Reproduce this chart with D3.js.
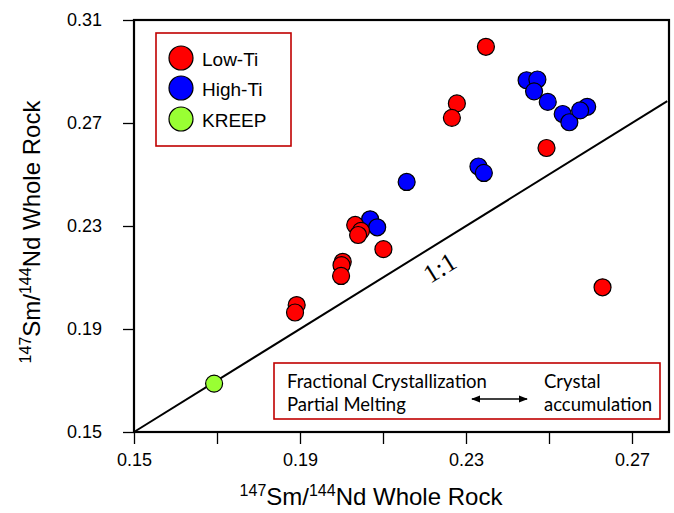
<!DOCTYPE html>
<html><head><meta charset="utf-8">
<script src="https://cdn.jsdelivr.net/npm/d3@7"></script>
<style>body{margin:0;background:#fff}</style>
</head><body>
<svg id="c" width="674" height="513"></svg>
<script>
// ---- data ----
const lowTi = [
  [0.2348,0.2996],[0.2278,0.2776],[0.2266,0.2720],[0.2494,0.2603],
  [0.2033,0.2304],[0.2047,0.2281],[0.2040,0.2265],[0.2101,0.2210],
  [0.2003,0.2161],[0.2000,0.2148],[0.1999,0.2106],[0.1892,0.1993],
  [0.1888,0.1964],[0.2629,0.2062]
];
const highTi = [
  [0.2446,0.2866],[0.2472,0.2869],[0.2464,0.2823],[0.2497,0.2782],
  [0.2533,0.2735],[0.2549,0.2703],[0.2592,0.2763],[0.2575,0.2749],
  [0.2069,0.2326],[0.2086,0.2295],[0.2157,0.2471],[0.2330,0.2531],
  [0.2343,0.2506]
];
const kreep = [[0.1693,0.1688]];
const xMajor = [0.15,0.19,0.23,0.27];
const xMinor = [0.17,0.21,0.25];
const yTicks = [0.15,0.19,0.23,0.27,0.31];
const oneToOne = [0.15,0.2785];
const legendNames = ["Low-Ti","High-Ti","KREEP"];
const colors = ["#ff0000","#0000ff","#99ff33"];

const svg = d3.select("#c");
const pL=134,pR=669,pT=20,pB=432;
const x = d3.scaleLinear().domain([0.15,0.27]).range([134,632]);
const y = d3.scaleLinear().domain([0.15,0.31]).range([pB,pT]);
const font = "'Liberation Sans', Arial, sans-serif";

// axes
const xAxis = svg.append("g").attr("transform",`translate(0,${pB})`)
  .call(d3.axisBottom(x).tickValues(xMajor.concat(xMinor)).tickSize(12).tickPadding(9)
    .tickFormat(d => xMajor.includes(d) ? d3.format(".2f")(d) : ""));
const yAxis = svg.append("g").attr("transform",`translate(${pL},0)`)
  .call(d3.axisLeft(y).tickValues(yTicks).tickSize(11).tickPadding(21).tickFormat(d3.format(".2f")));
[xAxis,yAxis].forEach(a=>{
  a.attr("font-family",null).attr("font-size",null);
  a.select(".domain").remove();
  a.selectAll(".tick line").attr("stroke","#000").attr("stroke-width",1.3);
  a.selectAll("text").style("font-family",font).style("font-size","18px").attr("fill","#000");
});

// frame
svg.append("rect").attr("x",pL).attr("y",pT).attr("width",pR-pL).attr("height",pB-pT)
  .attr("fill","none").attr("stroke","#000").attr("stroke-width",2.2);

// 1:1 line
svg.append("line").attr("x1",x(oneToOne[0])).attr("y1",y(oneToOne[0]))
  .attr("x2",x(oneToOne[1])).attr("y2",y(oneToOne[1]))
  .attr("stroke","#000").attr("stroke-width",2);
const ang = Math.atan2(y(0.16)-y(0.15), x(0.16)-x(0.15))*180/Math.PI;
svg.append("text").attr("transform",`translate(440,268) rotate(${ang})`)
  .attr("text-anchor","middle").attr("dominant-baseline","central")
  .style("font-family","'Liberation Serif', 'Times New Roman', serif").style("font-size","26px")
  .text("1:1");

// points
const groups = [highTi, lowTi, kreep];
const gcol = [colors[1], colors[0], colors[2]];
groups.forEach((g,i)=>{
  svg.append("g").selectAll("circle").data(g).join("circle")
    .attr("cx",d=>x(d[0])).attr("cy",d=>y(d[1])).attr("r",8.5)
    .attr("fill",gcol[i]).attr("stroke","#000").attr("stroke-width",1.2);
});

// legend
svg.append("rect").attr("x",156).attr("y",33).attr("width",135).attr("height",113)
  .attr("fill","#fff").attr("stroke","#c00000").attr("stroke-width",1.6);
legendNames.forEach((n,i)=>{
  const cy = [58,88,119][i];
  svg.append("circle").attr("cx",181).attr("cy",cy).attr("r",12)
    .attr("fill",colors[i]).attr("stroke","#000").attr("stroke-width",1.2);
  svg.append("text").attr("x",202).attr("y",cy+1).attr("dominant-baseline","central")
    .style("font-family",font).style("font-size","19px").text(n);
});

// annotation box
svg.append("rect").attr("x",274).attr("y",363).attr("width",386).attr("height",56)
  .attr("fill","#fff").attr("stroke","#c00000").attr("stroke-width",1.6);
const afont = "Lato, 'Open Sans', sans-serif";
[["Fractional Crystallization",287,388],["Partial Melting",287,411],["Crystal",544,388],["accumulation",544,411]]
  .forEach(t=>svg.append("text").attr("x",t[1]).attr("y",t[2]).style("font-family",afont)
    .style("font-size","18.5px").text(t[0]));
const defs = svg.append("defs");
["s","e"].forEach(k=>{
  defs.append("marker").attr("id","m"+k).attr("viewBox","0 0 10 10").attr("refX",9).attr("refY",5)
    .attr("markerWidth",7).attr("markerHeight",7).attr("orient",k==="e"?"auto":"auto-start-reverse")
    .append("path").attr("d","M0,1 L10,5 L0,9 z").attr("fill","#000");
});
svg.append("line").attr("x1",472).attr("y1",399).attr("x2",527).attr("y2",399)
  .attr("stroke","#000").attr("stroke-width",1.3)
  .attr("marker-start","url(#ms)").attr("marker-end","url(#me)");

// axis titles
function title(sel){
  sel.append("tspan").style("font-size","16px").attr("dy",-9).text("147");
  sel.append("tspan").attr("dy",9).text("Sm/");
  sel.append("tspan").style("font-size","16px").attr("dy",-9).text("144");
  sel.append("tspan").attr("dy",9).text("Nd Whole Rock");
}
svg.append("text").attr("x",371).attr("y",505).attr("text-anchor","middle")
  .style("font-family",font).style("font-size","24px").call(title);
svg.append("text").attr("transform","translate(40,232) rotate(-90)").attr("text-anchor","middle")
  .style("font-family",font).style("font-size","24px").call(title);
</script>
</body></html>
